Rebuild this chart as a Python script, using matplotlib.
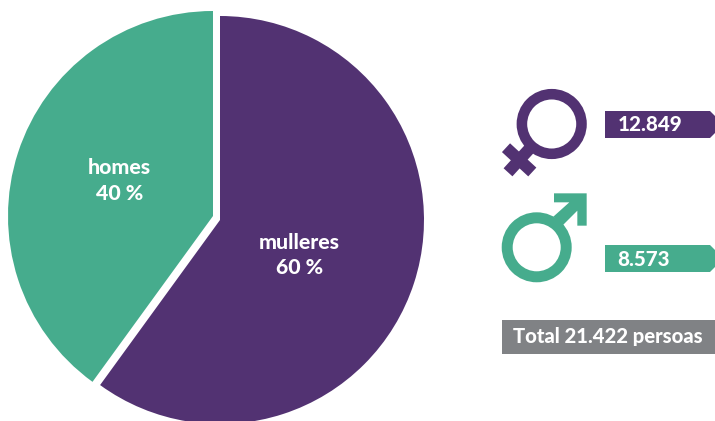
import matplotlib
matplotlib.use("Agg")
import matplotlib.pyplot as plt
from matplotlib.patches import Polygon, Circle

categories = ["mulleres", "homes"]
shares = [60, 40]
counts = ["12.849", "8.573"]
total_label = "Total 21.422 persoas"

PURPLE = "#523272"
GREEN = "#46AC8D"
GREY = "#808285"
W, H = 715, 421
FONT = "Lato"
WEIGHT = 900

fig = plt.figure(figsize=(W / 100, H / 100), dpi=100)
ax = fig.add_axes([0, 0, 1, 1])


def Y(y):
    return H - y


# pie: each slice has its own apex so a white gap opens between them
ax.pie(shares, colors=[PURPLE, "none"], startangle=90, counterclock=False,
       center=(220, Y(220)), radius=204, frame=True)
ax.pie(shares, colors=["none", GREEN], startangle=90, counterclock=False,
       center=(213, Y(216)), radius=205, frame=True)
ax.set_xlim(0, W)
ax.set_ylim(0, H)
ax.set_aspect("equal")
ax.axis("off")

txt = dict(color="white", fontweight=WEIGHT, family=FONT, ha="center", va="center", fontsize=15.3)
ax.text(299.5, Y(242.5), categories[0], **txt)
ax.text(299.5, Y(268), f"{shares[0]} %", **txt)
ax.text(119.5, Y(168), categories[1], **txt)
ax.text(119.5, Y(193), f"{shares[1]} %", **txt)

# female symbol
ax.add_patch(Circle((551.7, Y(124)), 29.8, fill=False, ec=PURPLE, lw=7.6))
ax.plot([530, 508], [Y(148.2), Y(172.3)], color=PURPLE, lw=8.6, solid_capstyle="butt")
ax.plot([506, 532.3], [Y(147.7), Y(172)], color=PURPLE, lw=8.6, solid_capstyle="butt")

# male symbol
ax.add_patch(Circle((536.7, Y(247.3)), 29.5, fill=False, ec=GREEN, lw=7.9))
head = [(192, 370), (290, 370), (290, 467), (262, 467), (262, 422),
        (218, 466), (190, 440), (238, 397), (192, 397)]
ax.add_patch(Polygon([(490 + x / 3, Y(70 + y / 3)) for x, y in head], fc=GREEN, ec="none"))


def banner(y0, y1, color):
    x0, x1, c = 605, 715, 5
    ax.add_patch(Polygon([(x0, Y(y0)), (x1 - c, Y(y0)), (x1, Y(y0 + c)),
                          (x1, Y(y1 - c)), (x1 - c, Y(y1)), (x0, Y(y1))],
                         fc=color, ec="none"))


banner(111, 138, PURPLE)
banner(245, 272, GREEN)
num = dict(color="white", fontweight=WEIGHT, family=FONT, ha="left", va="center", fontsize=14.8)
ax.text(617.5, Y(124.5), counts[0], **num)
ax.text(617.5, Y(259), counts[1], **num)

ax.add_patch(Polygon([(502, Y(320)), (715, Y(320)), (715, Y(354)), (502, Y(354))],
                     fc=GREY, ec="none"))
ax.text(607.5, Y(336), total_label, color="white", fontweight=WEIGHT, family=FONT,
        ha="center", va="center", fontsize=14.6)

fig.savefig("out.png", dpi=100, facecolor="white")
